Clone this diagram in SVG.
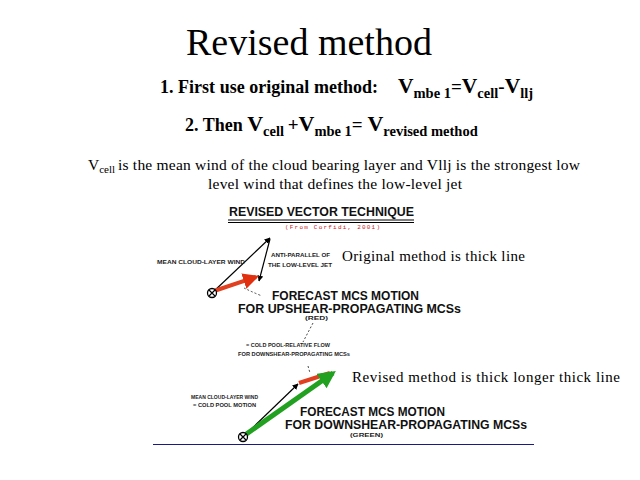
<svg xmlns="http://www.w3.org/2000/svg" width="640" height="480" viewBox="0 0 640 480">
<defs>
<style>
.serif{font-family:"Liberation Serif","Times New Roman",serif;fill:#000}
.bs{font-family:"Liberation Serif","Times New Roman",serif;font-weight:bold;fill:#000}
.sans{font-family:"Liberation Sans",Arial,sans-serif;font-weight:bold;fill:#111;font-size:12px}
.tiny{font-family:"Liberation Sans",Arial,sans-serif;font-weight:bold;font-size:6px;fill:#222}
.thin{stroke:#000;stroke-width:1.2;fill:none}
</style>
<marker id="ah" viewBox="0 0 10 10" refX="9" refY="5" markerWidth="6" markerHeight="6" orient="auto" markerUnits="userSpaceOnUse"><path d="M0,0 L10,5 L0,10 z" fill="#000"/></marker>
<marker id="ahr" viewBox="0 0 10 10" refX="8" refY="5" markerWidth="4" markerHeight="4" orient="auto"><path d="M0,0 L10,5 L0,10 z" fill="#e03010"/></marker>
<marker id="ahg" viewBox="0 0 10 10" refX="8" refY="5" markerWidth="3.5" markerHeight="3.5" orient="auto"><path d="M0,0 L10,5 L0,10 z" fill="#22a020"/></marker>
</defs>
<rect width="640" height="480" fill="#fff"/>

<g id="title"><text class="serif" x="186" y="55" font-size="38">Revised method</text></g>

<g id="step1">
<text class="bs" x="160" y="93" font-size="18" textLength="218" lengthAdjust="spacing">1.  First use original method:</text>
<text class="bs" x="398" y="93" font-size="21.5">V<tspan font-size="14.5" dy="5">mbe 1</tspan><tspan font-size="19" dy="-5">=</tspan>V<tspan font-size="14.5" dy="5">cell</tspan><tspan font-size="19" dy="-5">-</tspan>V<tspan font-size="14.5" dy="5">llj</tspan></text>
</g>
<g id="step2">
<text class="bs" x="185" y="131" font-size="18">2.  Then <tspan font-size="22">V</tspan><tspan font-size="14.5" dy="5">cell </tspan><tspan font-size="19" dy="-5">+</tspan><tspan font-size="22">V</tspan><tspan font-size="14.5" dy="5">mbe 1</tspan><tspan font-size="19" dy="-5">= </tspan><tspan font-size="22">V</tspan><tspan font-size="14.5" dy="5">revised method</tspan></text>
</g>

<g id="definition">
<text class="serif" x="88" y="170" font-size="15.5">V<tspan font-size="11" dy="3">cell</tspan></text>
<text class="serif" x="118" y="170" font-size="15.5" textLength="462" lengthAdjust="spacing">is the mean wind of the cloud bearing layer and Vllj is the strongest low</text>
<text class="serif" x="208" y="189" font-size="15.5" textLength="254" lengthAdjust="spacing">level wind that defines the low-level jet</text>
</g>

<g id="figure-heading">
<text class="sans" x="229" y="216" font-size="11.5" textLength="185" lengthAdjust="spacingAndGlyphs">REVISED VECTOR TECHNIQUE</text>
<line x1="228" y1="220" x2="414" y2="220" stroke="#000" stroke-width="1.2"/>
<line x1="228" y1="222.5" x2="414" y2="222.5" stroke="#000" stroke-width="1"/>
<text x="285" y="229" font-family="Liberation Mono,monospace" font-size="6" fill="#d02020" textLength="95">(From Corfidi, 2001)</text>
</g>

<g id="connectors">
<line class="thin" x1="212" y1="293" x2="270" y2="238" marker-end="url(#ah)"/>
<line class="thin" x1="270" y1="239" x2="259" y2="281" marker-end="url(#ah)"/>
<line x1="214" y1="291" x2="256" y2="277" stroke="#e04020" stroke-width="4" marker-end="url(#ahr)"/>
<path d="M244,288 Q252,292 262,296" stroke="#333" stroke-width="0.9" fill="none" stroke-dasharray="2,2"/>
<line x1="313" y1="323" x2="303" y2="342" stroke="#333" stroke-width="0.9" stroke-dasharray="2,2"/>
<line x1="308" y1="366" x2="310" y2="373" stroke="#333" stroke-width="0.9" stroke-dasharray="2,2"/>
<line class="thin" x1="243" y1="437" x2="298" y2="384" marker-end="url(#ah)"/>
<line x1="299" y1="383" x2="330" y2="373" stroke="#e04020" stroke-width="4"/>
<line x1="245" y1="435" x2="333" y2="373" stroke="#22a020" stroke-width="5" marker-end="url(#ahg)"/>
</g>

<g id="origin-upper"><circle cx="212" cy="293" r="4.5" fill="#fff" stroke="#000" stroke-width="1.3"/><path d="M209,290 L215,296 M215,290 L209,296" stroke="#000" stroke-width="1.2"/></g>
<g id="origin-lower"><circle cx="243" cy="437" r="4.5" fill="#fff" stroke="#000" stroke-width="1.3"/><path d="M240,434 L246,440 M246,434 L240,440" stroke="#000" stroke-width="1.2"/></g>

<g id="upper-labels">
<text class="tiny" x="157" y="264" textLength="88" lengthAdjust="spacingAndGlyphs">MEAN CLOUD-LAYER WIND</text>
<text class="tiny" x="271" y="257" textLength="59" lengthAdjust="spacingAndGlyphs">ANTI-PARALLEL OF</text>
<text class="tiny" x="268" y="267" textLength="64" lengthAdjust="spacingAndGlyphs">THE LOW-LEVEL JET</text>
<text class="serif" x="342" y="261" font-size="15" textLength="183" lengthAdjust="spacing">Original method is thick line</text>
<text class="sans" x="272" y="300" textLength="147" lengthAdjust="spacingAndGlyphs">FORECAST MCS MOTION</text>
<text class="sans" x="238" y="313" textLength="223" lengthAdjust="spacingAndGlyphs">FOR UPSHEAR-PROPAGATING MCSs</text>
<text class="tiny" x="305" y="320" textLength="23" lengthAdjust="spacingAndGlyphs">(RED)</text>
</g>

<g id="middle-labels">
<text class="tiny" x="246" y="347" textLength="84" lengthAdjust="spacingAndGlyphs">= COLD POOL-RELATIVE FLOW</text>
<text class="tiny" x="238" y="356" textLength="112" lengthAdjust="spacingAndGlyphs">FOR DOWNSHEAR-PROPAGATING MCSs</text>
</g>

<g id="lower-labels">
<text class="serif" x="352" y="382" font-size="15" textLength="268" lengthAdjust="spacing">Revised  method is thick longer thick line</text>
<text class="tiny" x="191" y="399" textLength="67" lengthAdjust="spacingAndGlyphs">MEAN CLOUD-LAYER WIND</text>
<text class="tiny" x="193" y="407" textLength="63" lengthAdjust="spacingAndGlyphs">= COLD POOL MOTION</text>
<text class="sans" x="300" y="416" textLength="145" lengthAdjust="spacingAndGlyphs">FORECAST MCS MOTION</text>
<text class="sans" x="285" y="429" textLength="242" lengthAdjust="spacingAndGlyphs">FOR DOWNSHEAR-PROPAGATING MCSs</text>
<text class="tiny" x="350" y="437" textLength="33" lengthAdjust="spacingAndGlyphs">(GREEN)</text>
</g>

<g id="baseline"><line x1="153" y1="444.5" x2="534" y2="444.5" stroke="#1a1a80" stroke-width="1.2"/></g>
</svg>
